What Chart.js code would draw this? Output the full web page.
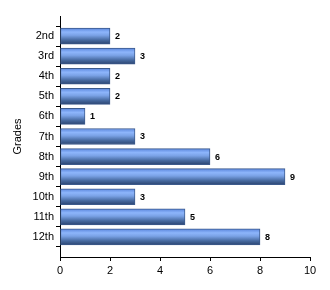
<!DOCTYPE html>
<html>
<head>
<meta charset="utf-8">
<script src="https://cdn.jsdelivr.net/npm/chart.js@4"></script>
<style>
html,body{margin:0;padding:0;background:#fff;}
canvas{display:block;}
</style>
</head>
<body>
<canvas id="c" width="330" height="290"></canvas>
<script>
const grades = ['2nd','3rd','4th','5th','6th','7th','8th','9th','10th','11th','12th'];
const counts = [2,3,2,2,1,3,6,9,3,5,8];
const xTicks = [0,2,4,6,8,10];

const labels = [''].concat(grades, ['']);
const data = [null].concat(counts, [null]);

const FONT = "'Liberation Sans', Arial, sans-serif";

function barFill(c) {
  const chart = c.chart;
  if (!chart.chartArea || !chart.scales.y) return '#5b84c8';
  const y = chart.scales.y.getPixelForValue(c.dataIndex);
  const g = chart.ctx.createLinearGradient(0, y - 8, 0, y + 8);
  g.addColorStop(0, '#5a86dc');
  g.addColorStop(0.25, '#8db5fb');
  g.addColorStop(0.45, '#7aa2e6');
  g.addColorStop(0.75, '#46699f');
  g.addColorStop(1, '#2b4470');
  return g;
}

const valueLabels = {
  id: 'valueLabels',
  afterDatasetsDraw(chart) {
    const ctx = chart.ctx;
    const meta = chart.getDatasetMeta(0);
    ctx.save();
    ctx.font = "bold 9px " + FONT;
    ctx.fillStyle = '#000';
    ctx.textBaseline = 'middle';
    ctx.textAlign = 'left';
    meta.data.forEach((el, i) => {
      const v = chart.data.datasets[0].data[i];
      if (v === null || v === undefined) return;
      ctx.fillText(String(v), el.x + 5, el.y + 0.5);
    });
    ctx.restore();
  }
};

new Chart(document.getElementById('c'), {
  type: 'bar',
  data: {
    labels: labels,
    datasets: [{
      data: data,
      backgroundColor: barFill,
      borderColor: '#3c5a8c',
      borderWidth: 1,
      borderSkipped: false,
      barThickness: 16
    }]
  },
  options: {
    indexAxis: 'y',
    responsive: false,
    animation: false,
    layout: { padding: { top: 16, right: 20, left: 0, bottom: 0 } },
    plugins: { legend: { display: false }, tooltip: { enabled: false } },
    scales: {
      y: {
        type: 'category',
        offset: false,
        grid: { display: true, drawOnChartArea: false, drawTicks: true, tickLength: 4, color: '#000' },
        border: { display: true, color: '#000', width: 1 },
        ticks: { autoSkip: false, color: '#000', padding: 2, font: { family: FONT, size: 11 } },
        title: { display: true, text: 'Grades', color: '#000', font: { family: FONT, size: 11 }, padding: { top: 11, bottom: 0 } },
        afterFit(s) { s.width = 60; }
      },
      x: {
        type: 'linear',
        min: 0,
        max: 10,
        afterBuildTicks(s) { s.ticks = xTicks.map(v => ({ value: v })); },
        grid: { display: true, drawOnChartArea: false, drawTicks: true, tickLength: 4, color: '#000' },
        border: { display: true, color: '#000', width: 1 },
        ticks: { color: '#000', padding: 3, font: { family: FONT, size: 11 }, maxRotation: 0 },
        afterFit(s) { s.height = 33; }
      }
    }
  },
  plugins: [valueLabels]
});
</script>
</body>
</html>
